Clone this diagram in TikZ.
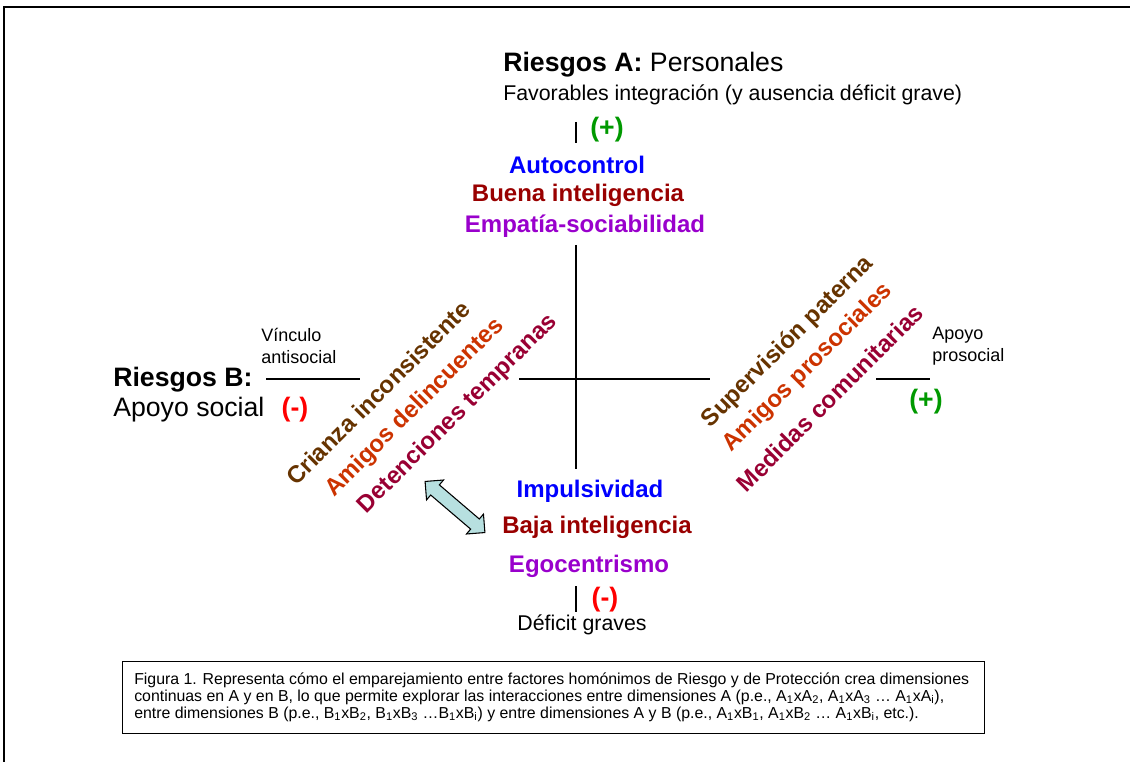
\documentclass[tikz,border=0pt]{standalone}
\usepackage{fontspec}
\setmainfont{Liberation Sans}
\usetikzlibrary{shapes.arrows}
\definecolor{cblue}{RGB}{0,0,255}
\definecolor{cdred}{RGB}{153,0,0}
\definecolor{cpurple}{RGB}{153,0,204}
\definecolor{cbrown}{RGB}{102,51,0}
\definecolor{corange}{RGB}{204,51,0}
\definecolor{cmaroon}{RGB}{153,0,51}
\definecolor{cgreen}{RGB}{0,153,0}
\definecolor{cred}{RGB}{255,0,0}
\definecolor{carrow}{RGB}{183,224,224}
\begin{document}
\begin{tikzpicture}[x=0.75pt,y=-0.75pt,
  big/.style={font=\fontsize{20}{24}\selectfont, inner sep=0pt, anchor=west},
  mid/.style={font=\fontsize{16}{19}\selectfont, inner sep=0pt},
  item/.style={font=\fontsize{18}{22}\selectfont\bfseries, inner sep=0pt},
  diag/.style={font=\fontsize{18}{21}\selectfont\bfseries, inner sep=0pt, rotate=45},
  small/.style={font=\fontsize{13.5}{16.5}\selectfont, inner sep=0pt, align=left, anchor=west},
  sign/.style={font=\fontsize{20}{24}\selectfont\bfseries, inner sep=0pt},
  axis/.style={line width=0.9pt}]
\useasboundingbox (0,0) rectangle (1130,762);
% outer frame
\coordinate (fbl) at (4,763);
\coordinate (ftl) at (4,7);
\coordinate (ftr) at (1131,7);
\draw[line width=1.5pt] (fbl) -- (ftl) -- (ftr);

% top
\node[big] (riskA) at (503,65) {\textbf{Riesgos A:} Personales};
\node[mid, anchor=west] (fav) at (503,95) {Favorables integración (y ausencia déficit grave)};
\node[sign, text=cgreen] (plusA) at (607,130) {(+)};
\coordinate (tt1) at (576,122);
\coordinate (tt2) at (576,143);
\draw[axis] (tt1) -- (tt2);
\node[item, text=cblue] (auto) at (577,165) {Autocontrol};
\node[item, text=cdred] (buena) at (578,195) {Buena inteligencia};
\node[item, text=cpurple] (empatia) at (585,226) {Empatía-sociabilidad};

% bottom
\node[item, text=cblue] (impuls) at (590,491) {Impulsividad};
\node[item, text=cdred] (baja) at (597,527) {Baja inteligencia};
\node[item, text=cpurple] (ego) at (589,566) {Egocentrismo};
\node[sign, text=cred] (minusA) at (605,600) {(-)};
\coordinate (tb1) at (576,586);
\coordinate (tb2) at (576,612);
\draw[axis] (tb1) -- (tb2);
\node[mid] (deficit) at (582,625) {Déficit graves};

% axes
\coordinate (vtop) at (576,245);
\coordinate (vbot) at (576,469);
\draw[axis] (vtop) -- (vbot);
\coordinate (hl1) at (266,379);
\coordinate (hl2) at (360,379);
\coordinate (hc1) at (519,379);
\coordinate (hc2) at (710,379);
\coordinate (hr1) at (876,379);
\coordinate (hr2) at (930,379);
\draw[axis] (hl1) -- (hl2);
\draw[axis] (hc1) -- (hc2);
\draw[axis] (hr1) -- (hr2);

% left
\node[big] (riskB) at (113,380) {\textbf{Riesgos B:}};
\node[big] (apoyo) at (113,410) {Apoyo social};
\node[sign, text=cred] (minusB) at (295,410) {(-)};
\node[small] (vinc) at (261,346) {Vínculo\\antisocial};

% right
\node[small] (aproso) at (932,346) {Apoyo\\prosocial};
\node[sign, text=cgreen] (plusB) at (926,402) {(+)};

% diagonal labels
\node[diag, text=cbrown] (crianza) at (378,393) {Crianza inconsistente};
\node[diag, text=corange] (amigosd) at (415,408) {Amigos delincuentes};
\node[diag, text=cmaroon] (deten) at (458,414) {Detenciones tempranas};
\node[diag, text=cbrown] (superv) at (788,342) {Supervisión paterna};
\node[diag, text=corange] (amigosp) at (808,368) {Amigos prosociales};
\node[diag, text=cmaroon] (medidas) at (830,398) {Medidas comunitarias};

% double arrow
\node[double arrow, draw=black, fill=carrow, line width=0.8pt, rotate=-40.5,
  minimum height=59pt, inner sep=4.6pt, double arrow head extend=4.8pt] (darrow) at (455,507) {};

% caption
\node[draw=black, line width=0.75pt, minimum width=647pt, minimum height=54pt, inner sep=0pt] (capbox) at (553.5,697) {};
\node[font=\fontsize{11.9}{12.75}\selectfont, align=left, anchor=west, inner sep=0pt] (caption) at (134,697) {Figura 1. Representa cómo el emparejamiento entre factores homónimos de Riesgo y de Protección crea dimensiones\\continuas en A y en B, lo que permite explorar las interacciones entre dimensiones A (p.e., A\textsubscript{1}xA\textsubscript{2}, A\textsubscript{1}xA\textsubscript{3} … A\textsubscript{1}xA\textsubscript{i}),\\entre dimensiones B (p.e., B\textsubscript{1}xB\textsubscript{2}, B\textsubscript{1}xB\textsubscript{3} …B\textsubscript{1}xB\textsubscript{i}) y entre dimensiones A y B (p.e., A\textsubscript{1}xB\textsubscript{1}, A\textsubscript{1}xB\textsubscript{2} … A\textsubscript{1}xB\textsubscript{i}, etc.).};
\end{tikzpicture}
\end{document}
